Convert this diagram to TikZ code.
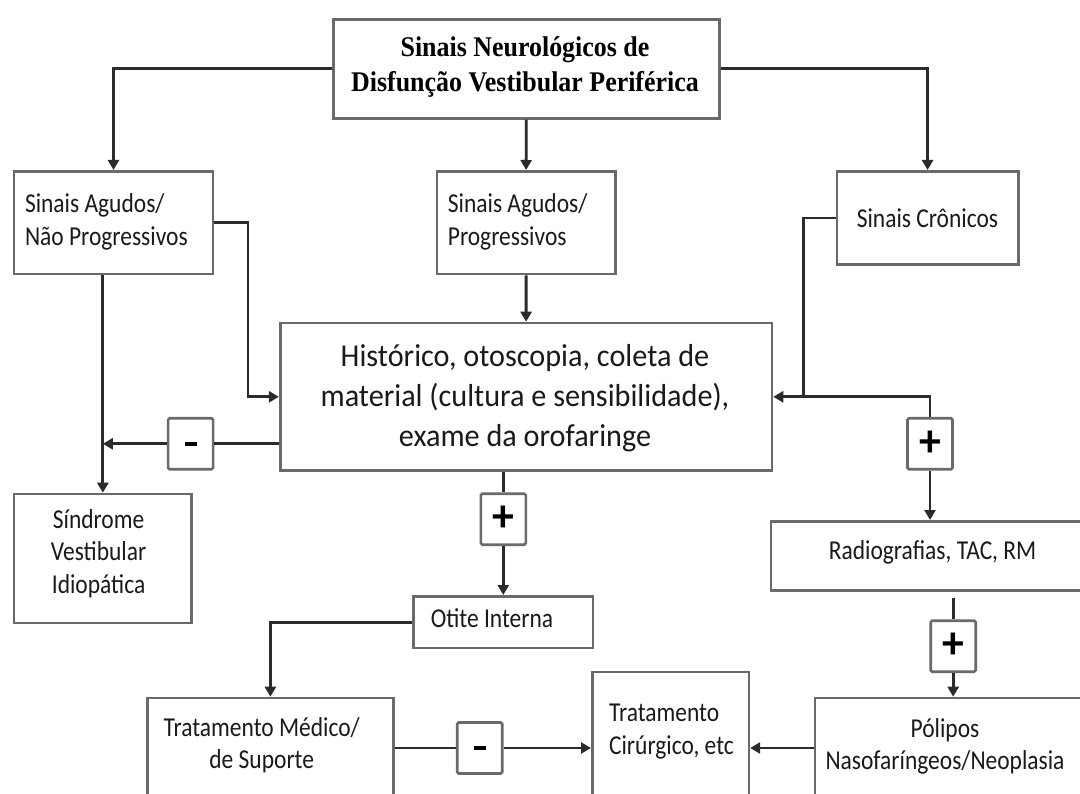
\documentclass[tikz,border=0pt]{standalone}
\usepackage{fontspec}
\setmainfont{Carlito}[FakeStretch=0.86]
\newfontfamily\bigfont{Carlito}[FakeStretch=0.95]
\newfontfamily\titlefont{Liberation Serif}[FakeStretch=0.91]
\usetikzlibrary{arrows.meta}
\definecolor{boxgray}{HTML}{6A6A6A}
\definecolor{linedark}{HTML}{2B2B2B}
\definecolor{txtcol}{HTML}{1A1A1A}
\begin{document}
\begin{tikzpicture}[x=1pt,y=-1pt,
  box/.style={draw=boxgray,line width=2.6pt,fill=white,inner sep=0pt,anchor=north west},
  conn/.style={draw=linedark,line width=2.8pt},
  arr/.style={conn,-{Triangle[length=10pt,width=11pt]}},
  lbl/.style={inner sep=0pt,align=center,text=txtcol,font=\fontsize{27.3}{32.5}\selectfont},
  big/.style={inner sep=0pt,align=center,text=txtcol,font=\bigfont\fontsize{31.8}{40}\selectfont},
  ttl/.style={inner sep=0pt,align=center,text=black,font=\titlefont\bfseries\fontsize{28.5}{35}\selectfont},
  sgn/.style={draw=boxgray,line width=2.6pt,fill=white,inner sep=0pt,rounded corners=1.5pt,minimum width=45pt,minimum height=51pt,text=black,font=\bigfont\bfseries\fontsize{46}{46}\selectfont}
]
\useasboundingbox (0,0) rectangle (1080,794);
\fill[white] (0,0) rectangle (1080,794);
\clip (0,0) rectangle (1080,794);

% boxes
\node[box,minimum width=386pt,minimum height=99pt] (title) at (332,18) {};
\node[box,minimum width=199pt,minimum height=102.7pt] (nap) at (12.7,170) {};
\node[box,minimum width=178.4pt,minimum height=102.7pt] (ap) at (435.6,170) {};
\node[box,minimum width=181.5pt,minimum height=93.3pt] (cron) at (835.5,170) {};
\node[box,minimum width=491.8pt,minimum height=147.6pt] (main) at (278.9,321.7) {};
\node[box,minimum width=177.7pt,minimum height=129pt] (sind) at (12.7,492.7) {};
\node[box,minimum width=179.5pt,minimum height=51.7pt] (otite) at (412.2,595) {};
\node[box,minimum width=330pt,minimum height=69pt] (rad) at (769.7,520) {};
\node[box,minimum width=245.6pt,minimum height=130pt] (med) at (146.3,696.7) {};
\node[box,minimum width=156.6pt,minimum height=150pt] (cir) at (591,670.7) {};
\node[box,minimum width=300pt,minimum height=130pt] (pol) at (813.8,696.7) {};

% texts
\node[ttl] (ttltxt) at (525,67.5) {Sinais Neurológicos de\\Disfunção Vestibular Periférica};
\node[lbl,align=left,anchor=west] (naptxt) at (24.8,222) {Sinais Agudos/\\Não Progressivos};
\node[lbl,align=left,anchor=west] (aptxt) at (447.7,222) {Sinais Agudos/\\Progressivos};
\node[lbl] (crontxt) at (927.5,218.3) {Sinais Crônicos};
\node[big] (maintxt) at (525,398.3) {Histórico, otoscopia, coleta de\\material (cultura e sensibilidade),\\exame da orofaringe};
\node[lbl] (sindtxt) at (98.6,553.5) {Síndrome\\Vestibular\\Idiopática};
\node[lbl] (otitxt) at (492,618.3) {Otite Interna};
\node[lbl] (radtxt) at (932.5,552.3) {Radiografias, TAC, RM};
\node[lbl] (medtxt) at (261.7,745) {Tratamento Médico/\\de Suporte};
\node[lbl,align=left,anchor=west] (cirtxt) at (608.9,731.7) {Tratamento\\Cirúrgico, etc};
\node[lbl] (poltxt) at (945,746.3) {Pólipos\\Nasofaríngeos/Neoplasia};

% sign boxes
\node[sgn] (m1) at (190.6,443.8) {\rule{12pt}{4.5pt}};
\node[sgn] (p1) at (503.3,519.2) {+};
\node[sgn] (p2) at (930,443.8) {+};
\node[sgn] (p3) at (953.2,646.2) {+};
\node[sgn] (m3) at (479.7,748) {\rule{12pt}{4.5pt}};

% connectors
\draw[arr] (title.west) -| (nap.north);
\draw[arr] (title.south) -- (ap.north);
\draw[arr] (title.east) -| (cron.north);
\draw[arr] (nap.east) -- ++(33.7,0) |- (main.west);
\draw[arr] (ap.south) -- (main.north);
\draw[arr] (cron.west) -- ++(-32,0) coordinate (cj) |- (main.east);
\coordinate (j) at (cj |- main.east);
\draw[conn] (j) -| (p2.north);
\draw[arr] (p2.south) -- (p2.south |- rad.north);
\draw[conn] (main.west |- m1.east) -- (m1.east);
\draw[arr] (m1.west) -- (m1.west -| sind.north);
\draw[arr] (nap.south -| sind.north) -- (sind.north);
\draw[conn] (main.south -| p1.north) -- (p1.north);
\draw[arr] (p1.south) -- (p1.south |- otite.north);
\draw[arr] (otite.west) -| (med.north);
\draw[conn] (med.east |- m3.west) -- (m3.west);
\draw[arr] (m3.east) -- (m3.east -| cir.west);
\draw[arr] (pol.west |- m3.east) -- (m3.east -| cir.east);
\draw[conn] ([yshift=-6pt]p3.north |- rad.south) -- (p3.north);
\draw[arr] (p3.south) -- (p3.south |- pol.north);
\end{tikzpicture}
\end{document}
